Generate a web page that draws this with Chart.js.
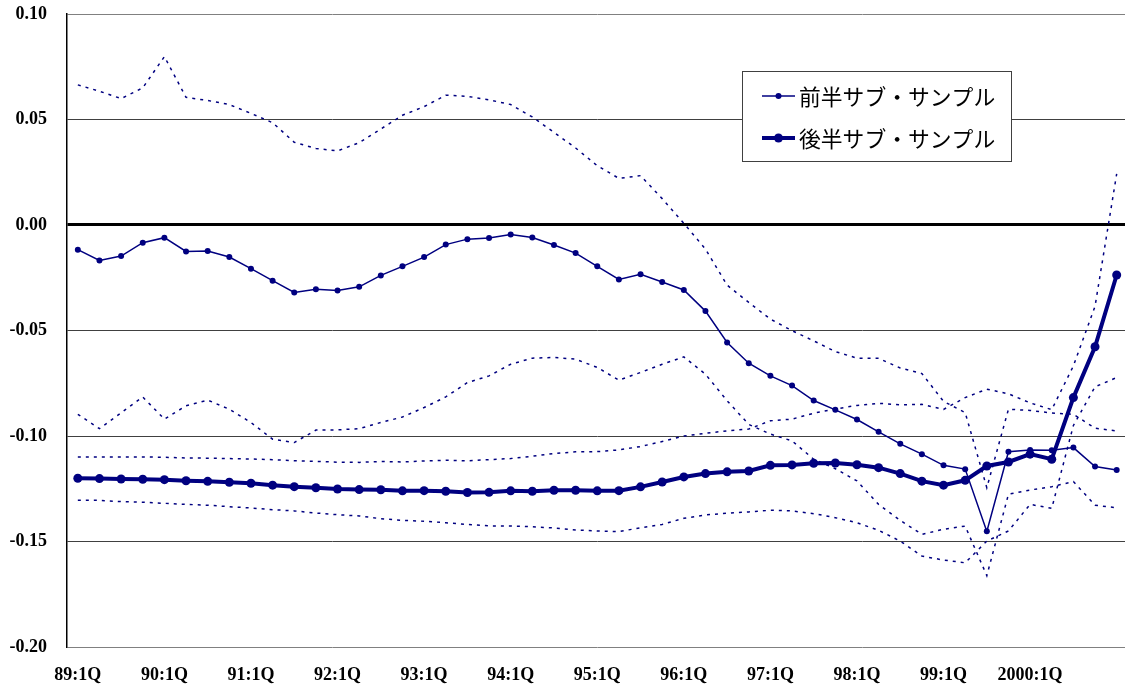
<!DOCTYPE html>
<html lang="ja">
<head>
<meta charset="utf-8">
<title>前半・後半サブ・サンプル</title>
<script src="https://cdn.jsdelivr.net/npm/chart.js@4.4.1/dist/chart.umd.min.js"></script>
<style>
  html, body { margin: 0; padding: 0; background: #fff; overflow: hidden; }
  #wrap { position: relative; width: 1132px; height: 690px; }
</style>
</head>
<body>
<div id="wrap"><canvas id="chart" width="1132" height="690"></canvas></div>
<script>
// Quarterly categories, 1989 Q1 to 2001 Q1
const quarters = [
  '89:1Q','89:2Q','89:3Q','89:4Q','90:1Q','90:2Q','90:3Q','90:4Q',
  '91:1Q','91:2Q','91:3Q','91:4Q','92:1Q','92:2Q','92:3Q','92:4Q',
  '93:1Q','93:2Q','93:3Q','93:4Q','94:1Q','94:2Q','94:3Q','94:4Q',
  '95:1Q','95:2Q','95:3Q','95:4Q','96:1Q','96:2Q','96:3Q','96:4Q',
  '97:1Q','97:2Q','97:3Q','97:4Q','98:1Q','98:2Q','98:3Q','98:4Q',
  '99:1Q','99:2Q','99:3Q','99:4Q','2000:1Q','2000:2Q','2000:3Q','2000:4Q',
  '2001:1Q'
];

// Category labels printed under the axis
const axisLabels = ['89:1Q','90:1Q','91:1Q','92:1Q','93:1Q','94:1Q','95:1Q','96:1Q','97:1Q','98:1Q','99:1Q','2000:1Q'];

// Value-axis ticks
const yMin = -0.20;
const yMax = 0.10;
const yStep = 0.05;

const seriesNames = ['前半サブ・サンプル', '後半サブ・サンプル'];

// 前半サブ・サンプル: estimate and its upper / lower bands
const firstHalf = [
  -0.0117, -0.0168, -0.0147, -0.0084, -0.0060, -0.0125, -0.0123, -0.0152,
  -0.0207, -0.0264, -0.0320, -0.0304, -0.0310, -0.0293, -0.0239, -0.0196,
  -0.0152, -0.0093, -0.0067, -0.0062, -0.0045, -0.0059, -0.0095, -0.0133,
  -0.0196, -0.0258, -0.0234, -0.0270, -0.0308, -0.0408, -0.0557, -0.0655,
  -0.0715, -0.0761, -0.0832, -0.0876, -0.0922, -0.0980, -0.1037, -0.1086,
  -0.1139, -0.1157, -0.1452, -0.1075, -0.1066, -0.1067, -0.1055, -0.1145,
  -0.1161
];
const firstHalfUpper = [
   0.0664,  0.0634,  0.0599,  0.0650,  0.0798,  0.0605,  0.0590,  0.0571,
   0.0529,  0.0485,  0.0392,  0.0363,  0.0351,  0.0390,  0.0455,  0.0520,
   0.0561,  0.0615,  0.0610,  0.0593,  0.0571,  0.0512,  0.0439,  0.0365,
   0.0281,  0.0221,  0.0234,  0.0125,  0.0008, -0.0114, -0.0285, -0.0367,
  -0.0446, -0.0501, -0.0549, -0.0600, -0.0631, -0.0632, -0.0678, -0.0704,
  -0.0836, -0.0889, -0.1245, -0.0873, -0.0879, -0.0891, -0.0897, -0.0963,
  -0.0976
];
const firstHalfLower = [
  -0.0897, -0.0965, -0.0890, -0.0815, -0.0920, -0.0857, -0.0830, -0.0873,
  -0.0936, -0.1015, -0.1031, -0.0972, -0.0971, -0.0965, -0.0936, -0.0910,
  -0.0865, -0.0815, -0.0747, -0.0715, -0.0660, -0.0631, -0.0628, -0.0636,
  -0.0675, -0.0735, -0.0699, -0.0660, -0.0625, -0.0707, -0.0833, -0.0945,
  -0.0991, -0.1023, -0.1110, -0.1155, -0.1213, -0.1324, -0.1400, -0.1466,
  -0.1442, -0.1427, -0.1662, -0.1276, -0.1256, -0.1240, -0.1216, -0.1328,
  -0.1340
];

// 後半サブ・サンプル: estimate and its upper / lower bands
const secondHalf = [
  -0.1200, -0.1202, -0.1204, -0.1205, -0.1207, -0.1212, -0.1215, -0.1219,
  -0.1224, -0.1233, -0.1240, -0.1245, -0.1251, -0.1254, -0.1255, -0.1260,
  -0.1259, -0.1262, -0.1268, -0.1267, -0.1260, -0.1262, -0.1257, -0.1257,
  -0.1260, -0.1259, -0.1241, -0.1218, -0.1194, -0.1178, -0.1170, -0.1166,
  -0.1139, -0.1137, -0.1129, -0.1128, -0.1136, -0.1150, -0.1178, -0.1214,
  -0.1233, -0.1210, -0.1142, -0.1123, -0.1086, -0.1110, -0.0818, -0.0577,
  -0.0237
];
const secondHalfUpper = [
  -0.1099, -0.1099, -0.1099, -0.1099, -0.1101, -0.1104, -0.1105, -0.1107,
  -0.1109, -0.1112, -0.1117, -0.1120, -0.1124, -0.1125, -0.1121, -0.1123,
  -0.1118, -0.1115, -0.1118, -0.1112, -0.1107, -0.1096, -0.1083, -0.1075,
  -0.1074, -0.1066, -0.1050, -0.1026, -0.1000, -0.0987, -0.0976, -0.0967,
  -0.0928, -0.0920, -0.0892, -0.0872, -0.0855, -0.0845, -0.0852, -0.0850,
  -0.0874, -0.0818, -0.0778, -0.0800, -0.0843, -0.0875, -0.0668, -0.0385,
   0.0242
];
const secondHalfLower = [
  -0.1305, -0.1305, -0.1311, -0.1314, -0.1319, -0.1324, -0.1328, -0.1335,
  -0.1341, -0.1349, -0.1355, -0.1365, -0.1373, -0.1379, -0.1392, -0.1400,
  -0.1404, -0.1411, -0.1419, -0.1426, -0.1426, -0.1430, -0.1436, -0.1445,
  -0.1450, -0.1453, -0.1435, -0.1419, -0.1390, -0.1374, -0.1366, -0.1360,
  -0.1352, -0.1355, -0.1368, -0.1387, -0.1411, -0.1447, -0.1498, -0.1569,
  -0.1588, -0.1601, -0.1498, -0.1450, -0.1324, -0.1343, -0.0950, -0.0767,
  -0.0723
];

const navy = '#000080';
const serifBold = { family: '"Liberation Serif", "Times New Roman", serif', size: 18, weight: 'bold' };

const band = (data) => ({
  data,
  borderColor: navy,
  borderWidth: 1.5,
  borderDash: [3, 5],
  pointRadius: 0,
  fill: false,
  tension: 0,
  order: 3
});

// Boxed legend in the upper right of the plot
const boxLegend = {
  id: 'boxLegend',
  afterDatasetsDraw(chart) {
    const ctx = chart.ctx;
    const x = 742.5, y = 71.5, w = 269, h = 90;
    ctx.save();
    ctx.fillStyle = '#fff';
    ctx.fillRect(x, y, w, h);
    ctx.strokeStyle = '#404040';
    ctx.lineWidth = 1;
    ctx.strokeRect(x, y, w, h);

    const rows = [
      { name: seriesNames[0], cy: 96,  lw: 1.5, r: 3 },
      { name: seriesNames[1], cy: 138, lw: 4,   r: 4.5 }
    ];
    rows.forEach(row => {
      ctx.strokeStyle = navy;
      ctx.lineWidth = row.lw;
      ctx.beginPath();
      ctx.moveTo(762, row.cy);
      ctx.lineTo(795, row.cy);
      ctx.stroke();
      ctx.fillStyle = navy;
      ctx.beginPath();
      ctx.arc(778.5, row.cy, row.r, 0, Math.PI * 2);
      ctx.fill();
      ctx.fillStyle = '#000';
      ctx.font = '21.8px "Noto Sans CJK JP", sans-serif';
      ctx.textAlign = 'left';
      ctx.textBaseline = 'middle';
      ctx.fillText(row.name, 799, row.cy + 1);
    });
    ctx.restore();
  }
};

const isZero = v => Math.abs(v) < 1e-9;

// Keep the plot edges fixed regardless of tick label overhang
const noOverhang = scale => {
  scale.paddingTop = 0;
  scale.paddingBottom = 0;
  scale.paddingLeft = 0;
  scale.paddingRight = 0;
};

new Chart(document.getElementById('chart'), {
  type: 'line',
  data: {
    labels: quarters,
    datasets: [
      {
        label: seriesNames[1],
        data: secondHalf,
        borderColor: navy,
        backgroundColor: navy,
        borderWidth: 4,
        pointRadius: 4.5,
        pointBorderWidth: 0,
        pointBackgroundColor: navy,
        tension: 0,
        order: 1
      },
      {
        label: seriesNames[0],
        data: firstHalf,
        borderColor: navy,
        backgroundColor: navy,
        borderWidth: 1.5,
        pointRadius: 3,
        pointBorderWidth: 0,
        pointBackgroundColor: navy,
        tension: 0,
        order: 2
      },
      band(firstHalfUpper),
      band(firstHalfLower),
      band(secondHalfUpper),
      band(secondHalfLower)
    ]
  },
  options: {
    responsive: false,
    devicePixelRatio: 1,
    animation: false,
    layout: { padding: { top: 14, right: 0, bottom: 0, left: 0 } },
    plugins: {
      legend: { display: false },
      tooltip: { enabled: false }
    },
    scales: {
      x: {
        type: 'category',
        offset: true,
        grid: { display: false, drawTicks: false },
        border: { display: false },
        ticks: {
          autoSkip: false,
          maxRotation: 0,
          minRotation: 0,
          padding: 18,
          color: '#000',
          font: serifBold,
          callback(value) {
            const label = this.getLabelForValue(value);
            return axisLabels.includes(label) ? label : '';
          }
        },
        afterFit(scale) { scale.height = 43; noOverhang(scale); }
      },
      y: {
        min: yMin,
        max: yMax,
        grid: {
          drawTicks: false,
          color: ctx => isZero(ctx.tick.value) ? '#000' :
            (Math.abs(ctx.tick.value - yMax) < 1e-9 || Math.abs(ctx.tick.value - yMin) < 1e-9 ? '#808080' : '#404040'),
          lineWidth: ctx => isZero(ctx.tick.value) ? 3 : 1
        },
        border: { display: true, color: '#000', width: 1.5 },
        ticks: {
          stepSize: yStep,
          padding: 20,
          color: '#000',
          font: serifBold,
          callback: v => isZero(v) ? '0.00' : v.toFixed(2)
        },
        afterFit(scale) { scale.width = 67; noOverhang(scale); }
      }
    }
  },
  plugins: [boxLegend]
});
</script>
</body>
</html>
